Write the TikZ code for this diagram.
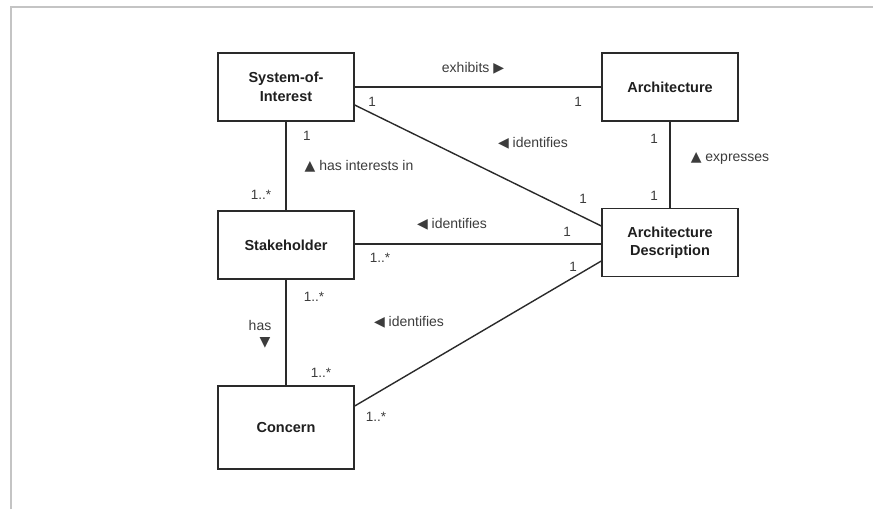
\documentclass[tikz,border=0pt]{standalone}
\usepackage{fontspec}
\setmainfont{Liberation Sans}
\newfontfamily\symfont{DejaVu Sans}
\usetikzlibrary{calc}
\definecolor{frameg}{HTML}{C4C4C4}
\definecolor{ink}{HTML}{2A2A2A}
\definecolor{lbl}{HTML}{3C3C3C}
\newcommand{\tright}{{\symfont ▶}}
\newcommand{\tleft}{{\symfont ◀}}
\newcommand{\tup}{{\symfont ▲}}
\newcommand{\tdown}{{\symfont ▼}}
\begin{document}
\begin{tikzpicture}[x=1pt,y=-1pt,
  cls/.style={draw=ink, line width=1.4pt, fill=white, minimum width=136pt,
    minimum height=68pt, align=center, inner sep=0pt, text=black!88,
    font=\fontsize{14.5}{18.5}\selectfont\bfseries},
  assoc/.style={draw=ink, line width=1.4pt},
  role/.style={text=lbl, inner sep=0pt, font=\fontsize{14}{16}\selectfont},
  mult/.style={text=lbl, inner sep=0pt, font=\fontsize{13.5}{15}\selectfont}]
\useasboundingbox (0,0) rectangle (873,509);
% page frame
\draw[frameg, line width=2pt] (11,509) -- (11,6.5) -- (873,6.5);

% classes
\node[cls] (soi) at (286,87) {System-of-\\Interest};
\node[cls] (arch) at (670,87) {Architecture};
\node[cls] (ad) at (670,242.5) {Architecture\\Description};
\node[cls] (stake) at (286,245) {Stakeholder};
\node[cls, minimum height=83pt] (concern) at (286,427.5) {Concern};

% associations
\draw[assoc] (soi.east) -- (arch.west);
\draw[assoc] ([yshift=-18pt]soi.east) -- ([yshift=16.5pt]ad.west);
\draw[assoc] (soi.south) -- (stake.north);
\draw[assoc] (arch.south) -- (ad.north);
\draw[assoc] ([yshift=1pt]stake.east) -- ([yshift=1pt]stake.east -| ad.west);
\draw[assoc] (stake.south) -- (concern.north);
\draw[assoc] ([yshift=21.5pt]concern.east) -- ([yshift=-18.5pt]ad.west);

% association names
\node[role] (exh) at (473,68) {exhibits \tright};
\node[role] (id1) at (533,143) {\tleft\ identifies};
\node[role] (hin) at (359,166) {\tup\ has interests in};
\node[role] (id2) at (452,224) {\tleft\ identifies};
\node[role] (hs) at (260,325) {has};
\node[role] (hsa) at (265,343) {\tdown};
\node[role] (id3) at (409,322) {\tleft\ identifies};
\node[role] (exp) at (730,158) {\tup\ expresses};

% multiplicities
\node[mult] (m1) at (372,102) {1};
\node[mult] (m2) at (578,102) {1};
\node[mult] (m3) at (583,199) {1};
\node[mult] (m4) at (307,136) {1};
\node[mult] (m5) at (261,195) {1..*};
\node[mult] (m6) at (567,232) {1};
\node[mult] (m7) at (380,258) {1..*};
\node[mult] (m8) at (314,297) {1..*};
\node[mult] (m9) at (321,373) {1..*};
\node[mult] (m10) at (376,417) {1..*};
\node[mult] (m11) at (573,267) {1};
\node[mult] (m12) at (654,139) {1};
\node[mult] (m13) at (654,196) {1};
\end{tikzpicture}
\end{document}
